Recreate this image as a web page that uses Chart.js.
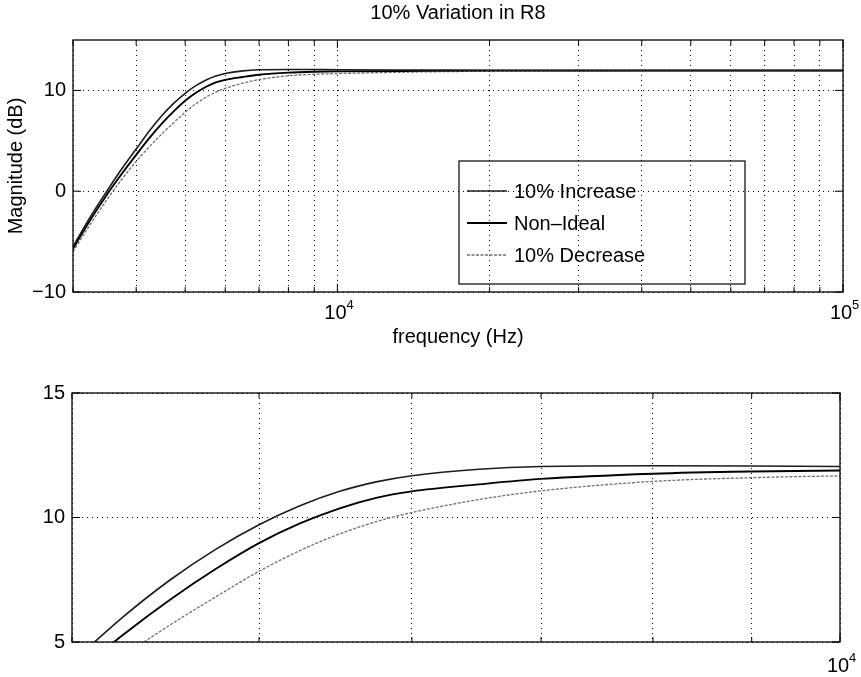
<!DOCTYPE html>
<html>
<head>
<meta charset="utf-8">
<script src="https://cdn.jsdelivr.net/npm/chart.js@4.4.1/dist/chart.umd.min.js"></script>
<style>
  body { margin: 0; background: #fff; }
  #quadro { position: relative; width: 861px; height: 677px; }
  canvas { position: absolute; left: 0; }
</style>
</head>
<body>
<div id="quadro">
  <canvas id="graficoTopo" width="861" height="350" style="top:0"></canvas>
  <canvas id="graficoBaixo" width="861" height="327" style="top:350px"></canvas>
</div>
<script>
// valores: frequencia (Hz) e magnitude (dB)
const frequencias = [3000, 3250, 3500, 3750, 4000, 4250, 4500, 4750, 5000, 5250, 5500, 5750, 6000, 6500, 7000, 8000, 9000, 10000, 15000, 20000, 30000, 50000, 100000];
const aumento10 = [-5.5, -2.5, 0.0, 2.25, 4.18, 6.0, 7.51, 8.73, 9.71, 10.47, 11.04, 11.43, 11.68, 11.94, 12.05, 12.08, 12.07, 12.05, 12.02, 12.0, 11.98, 11.97, 11.97];
const naoIdeal = [-5.7, -2.8, -0.35, 1.75, 3.6, 5.28, 6.72, 7.94, 8.97, 9.76, 10.36, 10.79, 11.05, 11.33, 11.55, 11.76, 11.85, 11.89, 11.94, 11.96, 11.97, 11.97, 11.97];
const reducao10 = [-6.0, -3.25, -0.85, 1.2, 2.95, 4.42, 5.7, 6.82, 7.84, 8.67, 9.33, 9.83, 10.2, 10.72, 11.07, 11.45, 11.6, 11.67, 11.84, 11.9, 11.94, 11.96, 11.97];
const legendas = ['10% Increase', 'Non\u2013Ideal', '10% Decrease'];

// ticks / grade
const ticksXTopo = [3000, 4000, 5000, 6000, 7000, 8000, 9000, 10000, 20000, 30000, 40000, 50000, 60000, 70000, 80000, 90000, 100000];
const rotulosXTopo = [10000, 100000];
const ticksYTopo = [-10, 0, 10];
const ticksXBaixo = [4000, 5000, 6000, 7000, 8000, 9000, 10000];
const rotulosXBaixo = [10000];
const ticksYBaixo = [5, 10, 15];

const fonte = '"Liberation Sans", Arial, sans-serif';

function pontos(valores) {
  return frequencias.map((f, i) => ({ x: f, y: valores[i] }));
}

function criaDatasets() {
  return [
    { label: legendas[0], data: pontos(aumento10), borderColor: '#1c1c1c', borderWidth: 1.6 },
    { label: legendas[1], data: pontos(naoIdeal), borderColor: '#000', borderWidth: 1.9 },
    { label: legendas[2], data: pontos(reducao10), borderColor: '#707070', borderWidth: 1.3, borderDash: [3, 1.5] }
  ].map(d => Object.assign(d, { pointRadius: 0, fill: false, cubicInterpolationMode: 'monotone' }));
}

// caixa, ticks para dentro, rotulos 10^n, titulo e legenda
const moldura = {
  id: 'moldura',
  afterDraw(chart, args, opts) {
    const { ctx, chartArea: a, scales: { x, y } } = chart;
    ctx.save();
    ctx.strokeStyle = '#000';
    ctx.lineWidth = 1.3;
    ctx.setLineDash([]);
    ctx.strokeRect(a.left, a.top, a.right - a.left, a.bottom - a.top);
    ctx.lineWidth = 1;
    ctx.beginPath();
    x.ticks.forEach(t => {
      const px = x.getPixelForValue(t.value);
      const dec = Math.abs(Math.log10(t.value) - Math.round(Math.log10(t.value))) < 1e-9;
      const len = dec ? 8 : 5;
      ctx.moveTo(px, a.bottom); ctx.lineTo(px, a.bottom - len);
      ctx.moveTo(px, a.top); ctx.lineTo(px, a.top + len);
    });
    y.ticks.forEach(t => {
      const py = y.getPixelForValue(t.value);
      ctx.moveTo(a.left, py); ctx.lineTo(a.left + 8, py);
      ctx.moveTo(a.right, py); ctx.lineTo(a.right - 8, py);
    });
    ctx.stroke();

    ctx.fillStyle = '#000';
    opts.rotulos.forEach(v => {
      const px = x.getPixelForValue(v) - 2;
      const exp = Math.round(Math.log10(v));
      ctx.font = '20px ' + fonte;
      ctx.textAlign = 'center';
      ctx.textBaseline = 'alphabetic';
      ctx.fillText('10', px, a.bottom + opts.baseRotulo);
      const w = ctx.measureText('10').width;
      ctx.font = '13px ' + fonte;
      ctx.textAlign = 'left';
      ctx.fillText(String(exp), px + w / 2, a.bottom + opts.baseRotulo - 10);
    });

    if (opts.titulo) {
      ctx.font = '20px ' + fonte;
      ctx.textAlign = 'center';
      ctx.textBaseline = 'middle';
      ctx.fillText(opts.titulo, (a.left + a.right) / 2, 13);
    }

    if (opts.legenda) {
      const L = opts.legenda;
      ctx.lineWidth = 1.2;
      ctx.strokeRect(L.x, L.y, L.w, L.h);
      chart.data.datasets.forEach((ds, i) => {
        const ly = L.y + 30 + i * 32;
        ctx.strokeStyle = ds.borderColor;
        ctx.lineWidth = ds.borderWidth;
        ctx.setLineDash(ds.borderDash || []);
        ctx.beginPath();
        ctx.moveTo(L.x + 8, ly); ctx.lineTo(L.x + 48, ly);
        ctx.stroke();
        ctx.setLineDash([]);
        ctx.font = '20px ' + fonte;
        ctx.textAlign = 'left';
        ctx.textBaseline = 'middle';
        ctx.fillText(ds.label, L.x + 55, ly + 1);
      });
    }
    ctx.restore();
  }
};

function eixoX(min, max, listaTicks, altura, titulo) {
  return {
    type: 'logarithmic', min: min, max: max,
    afterBuildTicks: s => { s.ticks = listaTicks.map(v => ({ value: v })); },
    afterFit: s => { s.height = altura; },
    ticks: { display: false, autoSkip: false },
    grid: { color: '#000', lineWidth: 1, drawTicks: false },
    border: { display: false, dash: [1, 4] },
    title: titulo ? { display: true, text: titulo, color: '#000', font: { size: 20, family: fonte }, padding: { top: 0, bottom: 1 } } : { display: false }
  };
}

function eixoY(min, max, listaTicks, titulo) {
  return {
    min: min, max: max,
    afterBuildTicks: s => { s.ticks = listaTicks.map(v => ({ value: v })); },
    afterFit: s => { s.width = 73; },
    ticks: { color: '#000', padding: 7, font: { size: 20, family: fonte }, callback: v => v === -10 ? '\u221210' : String(v) },
    grid: { color: '#000', lineWidth: 1, drawTicks: false },
    border: { display: false, dash: [1, 4] },
    title: titulo ? { display: true, text: titulo, color: '#000', font: { size: 20, family: fonte }, padding: { top: 4, bottom: 0 } } : { display: false }
  };
}

const graficoTopo = new Chart(document.getElementById('graficoTopo'), {
  type: 'line',
  data: { datasets: criaDatasets() },
  options: {
    responsive: false, animation: false,
    layout: { padding: { top: 40, right: 18, left: 0, bottom: 0 } },
    plugins: {
      legend: { display: false }, tooltip: { enabled: false },
      moldura: { rotulos: rotulosXTopo, baseRotulo: 27, titulo: '10% Variation in R8',
                 legenda: { x: 459, y: 161, w: 286, h: 123 } }
    },
    scales: {
      x: eixoX(3000, 100000, ticksXTopo, 58, 'frequency (Hz)'),
      y: eixoY(-10, 15, ticksYTopo, 'Magnitude (dB)')
    }
  },
  plugins: [moldura]
});

const graficoBaixo = new Chart(document.getElementById('graficoBaixo'), {
  type: 'line',
  data: { datasets: criaDatasets() },
  options: {
    responsive: false, animation: false,
    layout: { padding: { top: 43, right: 21, left: -1, bottom: 0 } },
    plugins: {
      legend: { display: false }, tooltip: { enabled: false },
      moldura: { rotulos: rotulosXBaixo, baseRotulo: 30 }
    },
    scales: {
      x: eixoX(4000, 10000, ticksXBaixo, 35, null),
      y: eixoY(5, 15, ticksYBaixo, null)
    }
  },
  plugins: [moldura]
});
</script>
</body>
</html>
